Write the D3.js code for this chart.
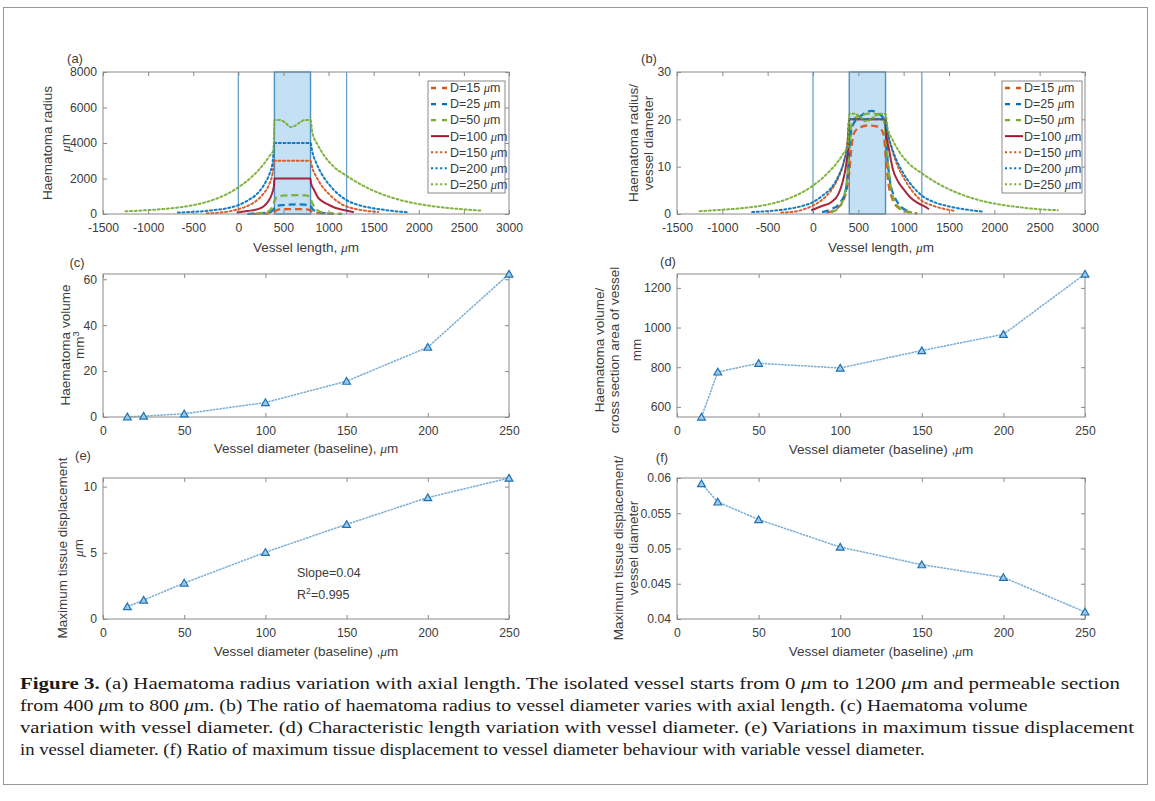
<!DOCTYPE html>
<html><head><meta charset="utf-8">
<script src="https://cdn.jsdelivr.net/npm/d3@7"></script>
<style>body{margin:0;background:#fff} svg{display:block}</style>
</head><body>
<svg id="fig" width="1155" height="801"></svg>
<script>
// ---------------- data ----------------
const diameters = [15, 25, 50, 100, 150, 200, 250];

// axial position (µm), haematoma radius (µm) and radius / vessel diameter
const lenD15   = [150, 250, 330, 380, 400, 420, 450, 500, 600, 700, 750, 780, 800, 830, 880, 950, 1050, 1150];
const radD15   = [5, 15, 40, 90, 130, 200, 255, 272, 280, 278, 268, 250, 190, 100, 45, 18, 6, 2];
const ratioD15 = [0.3, 1.0, 2.7, 6.0, 8.7, 13.3, 17.0, 18.1, 18.7, 18.5, 17.9, 16.7, 12.7, 6.7, 3.0, 1.2, 0.4, 0.1];

const lenD25   = [100, 200, 300, 360, 390, 410, 440, 500, 560, 650, 720, 780, 800, 820, 850, 900, 950, 1050];
const radD25   = [10, 25, 60, 120, 260, 400, 470, 505, 530, 545, 530, 505, 460, 300, 170, 90, 50, 15];
const ratioD25 = [0.4, 1.0, 2.4, 4.8, 10.4, 16.0, 18.8, 20.2, 21.2, 21.8, 21.2, 20.2, 18.4, 12.0, 6.8, 3.6, 2.0, 0.6];

const lenD50   = [200, 280, 340, 380, 400, 420, 460, 550, 650, 750, 790, 810, 840, 880, 950, 1050, 1150];
const radD50   = [20, 60, 180, 420, 720, 920, 1010, 1050, 1060, 1045, 960, 720, 420, 190, 70, 25, 10];
const ratioD50 = [0.4, 1.2, 3.6, 8.4, 14.4, 18.4, 20.2, 21.0, 21.2, 20.9, 19.2, 14.4, 8.4, 3.8, 1.4, 0.5, 0.2];

const lenD100   = [-20, 100, 200, 280, 330, 370, 395, 400, 800, 805, 840, 880, 940, 1000, 1080, 1150, 1220, 1280];
const radD100   = [80, 170, 250, 420, 700, 1100, 1600, 2000, 2000, 1750, 1350, 950, 680, 520, 340, 240, 170, 100];
const ratioD100 = [0.8, 1.7, 2.5, 4.2, 7.0, 11.0, 16.0, 20.0, 20.0, 17.5, 13.5, 9.5, 6.8, 5.2, 3.4, 2.4, 1.7, 1.0];

const lenD150   = [-350, -200, -100, 0, 100, 200, 280, 340, 380, 400, 800, 820, 870, 930, 1000, 1100, 1200, 1300, 1400, 1550];
const radD150   = [40, 80, 150, 270, 450, 750, 1150, 1650, 2300, 3000, 3000, 2600, 2050, 1550, 1150, 700, 420, 280, 190, 110];
const ratioD150 = [0.3, 0.5, 1.0, 1.8, 3.0, 5.0, 7.7, 11.0, 15.3, 20.0, 20.0, 17.3, 13.7, 10.3, 7.7, 4.7, 2.8, 1.9, 1.3, 0.7];

const lenD200   = [-670, -500, -300, -100, 0, 100, 200, 280, 340, 380, 400, 800, 820, 870, 930, 1000, 1100, 1200, 1350, 1500, 1700, 1870];
const radD200   = [80, 120, 200, 350, 500, 750, 1100, 1600, 2200, 2900, 4000, 4000, 3500, 2800, 2200, 1700, 1150, 780, 480, 320, 180, 100];
const ratioD200 = [0.4, 0.6, 1.0, 1.8, 2.5, 3.8, 5.5, 8.0, 11.0, 14.5, 20.0, 20.0, 17.5, 14.0, 11.0, 8.5, 5.8, 3.9, 2.4, 1.6, 0.9, 0.5];

const lenD250   = [-1250, -1000, -750, -500, -250, 0, 150, 280, 350, 390, 400, 450, 520, 580, 620, 680, 740, 800, 820, 880, 950, 1050, 1200, 1400, 1600, 1800, 2000, 2250, 2500, 2700];
const radD250   = [150, 220, 320, 500, 850, 1500, 2100, 2800, 3300, 3600, 5300, 5300, 5150, 4900, 4950, 5150, 5300, 5300, 4600, 3900, 3300, 2700, 2150, 1550, 1100, 780, 560, 380, 260, 190];
const ratioD250 = [0.6, 0.9, 1.3, 2.0, 3.4, 6.0, 8.4, 11.2, 13.2, 14.4, 21.2, 21.2, 20.6, 19.6, 19.8, 20.6, 21.2, 21.2, 18.4, 15.6, 13.2, 10.8, 8.6, 6.2, 4.4, 3.1, 2.2, 1.5, 1.0, 0.8];

// summary quantities against baseline vessel diameter (µm)
const baseDiam    = [15, 25, 50, 100, 150, 200, 250];
const volume      = [0.1, 0.4, 1.4, 6.3, 15.6, 30.4, 62.3];          // mm^3
const volumeRatio = [549, 776, 820, 796, 884, 966, 1270];             // mm
const maxDisp     = [0.93, 1.43, 2.72, 5.04, 7.15, 9.17, 10.65];      // µm
const dispRatio   = [0.0592, 0.0566, 0.0541, 0.0502, 0.0477, 0.0459, 0.0410];

// vessel extent and permeable section (µm)
const vesselEnds = [0, 1200];
const permeable  = [400, 800];

// tick labels
const lengthTicks      = [-1500, -1000, -500, 0, 500, 1000, 1500, 2000, 2500, 3000];
const radiusTicks      = [0, 2000, 4000, 6000, 8000];
const ratioTicks       = [0, 10, 20, 30];
const diamTicks        = [0, 50, 100, 150, 200, 250];
const volumeTicks      = [0, 20, 40, 60];
const volumeRatioTicks = [600, 800, 1000, 1200];
const dispTicks        = [0, 5, 10];
const dispRatioTicks   = [0.04, 0.045, 0.05, 0.055, 0.06];

// ---------------- styles ----------------
const SANS = "'Liberation Sans', Arial, Helvetica, sans-serif";
const SERIF = "'Liberation Serif', 'Times New Roman', serif";
const AXIS_COL = "#8a8a8a";
const TEXT_COL = "#3c3c3c";
const lineStyles = {
  15:  {color: "#d95319", dash: "7,4",  width: 2.3},
  25:  {color: "#0072bd", dash: "7,4",  width: 2.3},
  50:  {color: "#77ac30", dash: "7,4",  width: 2.3},
  100: {color: "#a2142f", dash: null,   width: 2.0},
  150: {color: "#d95319", dash: "2,2.6", width: 2.0},
  200: {color: "#0072bd", dash: "2,2.6", width: 2.0},
  250: {color: "#77ac30", dash: "2,2.6", width: 2.0}
};

const svg = d3.select("#fig");

// outer figure frame
svg.append("rect").attr("x", 3.5).attr("y", 7.5).attr("width", 1144).attr("height", 777)
  .attr("fill", "none").attr("stroke", "#9a9a9a").attr("stroke-width", 1);

function makePanel(box, xDom, yDom) {
  const g = svg.append("g");
  const x = d3.scaleLinear().domain(xDom).range([box.x0, box.x1]);
  const y = d3.scaleLinear().domain(yDom).range([box.y1, box.y0]);
  return {g, x, y, box};
}

function drawAxes(p, xt, yt) {
  const {g, x, y, box} = p;
  const fmt = d => String(d);
  const ax = g.append("g").attr("class", "axes");
  ax.append("g").attr("transform", `translate(0,${box.y1})`)
    .call(d3.axisBottom(x).tickValues(xt).tickSizeInner(-4).tickSizeOuter(0).tickPadding(9).tickFormat(fmt));
  ax.append("g").attr("transform", `translate(0,${box.y0})`)
    .call(d3.axisTop(x).tickValues(xt).tickSizeInner(-4).tickSizeOuter(0).tickFormat(() => ""));
  ax.append("g").attr("transform", `translate(${box.x0},0)`)
    .call(d3.axisLeft(y).tickValues(yt).tickSizeInner(-4).tickSizeOuter(0).tickPadding(6).tickFormat(fmt));
  ax.append("g").attr("transform", `translate(${box.x1},0)`)
    .call(d3.axisRight(y).tickValues(yt).tickSizeInner(-4).tickSizeOuter(0).tickFormat(() => ""));
  ax.selectAll(".domain").remove();
  ax.selectAll(".tick line").attr("stroke", AXIS_COL).attr("stroke-width", 1);
  ax.selectAll(".tick text").attr("fill", TEXT_COL).style("font-family", SANS).style("font-size", "12.2px");
  g.append("rect").attr("x", box.x0).attr("y", box.y0)
    .attr("width", box.x1 - box.x0).attr("height", box.y1 - box.y0)
    .attr("fill", "none").attr("stroke", AXIS_COL).attr("stroke-width", 1);
}

// text helper: parts = [[string, {italic, sup}], ...]
function richText(parent, x, y, parts, opts = {}) {
  const t = parent.append("text").attr("x", x).attr("y", y)
    .attr("fill", opts.fill || TEXT_COL)
    .style("font-family", opts.family || SANS)
    .style("font-size", (opts.size || 13) + "px")
    .attr("text-anchor", opts.anchor || "middle")
    .attr("dy", opts.dy || "0.35em");
  if (opts.rotate) t.attr("transform", `rotate(-90,${x},${y})`);
  parts.forEach(pt => {
    const s = typeof pt === "string" ? pt : pt[0];
    const o = typeof pt === "string" ? {} : pt[1];
    const ts = t.append("tspan").text(s);
    if (o.italic) ts.style("font-style", "italic").style("font-family", SERIF);
    if (o.bold) ts.style("font-weight", "bold");
    if (o.sup) ts.attr("baseline-shift", "super").style("font-size", "70%");
  });
  return t;
}
const MU = ["\u03bc", {italic: true}];

// ---------- panels (a) and (b): profiles along the vessel ----------
const seriesLen = {15: lenD15, 25: lenD25, 50: lenD50, 100: lenD100, 150: lenD150, 200: lenD200, 250: lenD250};
const seriesRad = {15: radD15, 25: radD25, 50: radD50, 100: radD100, 150: radD150, 200: radD200, 250: radD250};
const seriesRatio = {15: ratioD15, 25: ratioD25, 50: ratioD50, 100: ratioD100, 150: ratioD150, 200: ratioD200, 250: ratioD250};

function profilePanel(box, yDom, yt, valueSet, legendBox) {
  const p = makePanel(box, [-1500, 3000], yDom);
  const {g, x, y} = p;
  // permeable section
  g.append("rect").attr("x", x(permeable[0])).attr("y", box.y0)
    .attr("width", x(permeable[1]) - x(permeable[0])).attr("height", box.y1 - box.y0)
    .attr("fill", "#c4e0f4").attr("stroke", "#4d90c4").attr("stroke-width", 1.4);
  // vessel ends
  g.selectAll("line.vessel").data(vesselEnds).join("line").attr("class", "vessel")
    .attr("x1", d => x(d)).attr("x2", d => x(d)).attr("y1", box.y0).attr("y2", box.y1)
    .attr("stroke", "#66a3d0").attr("stroke-width", 1.3);
  const line = d3.line().x(d => x(d[0])).y(d => y(d[1])).curve(d3.curveMonotoneX);
  diameters.forEach(D => {
    const st = lineStyles[D];
    const pts = seriesLen[D].map((v, i) => [v, valueSet[D][i]]);
    g.append("path").datum(pts).attr("d", line).attr("fill", "none")
      .attr("stroke", st.color).attr("stroke-width", st.width)
      .attr("stroke-dasharray", st.dash).attr("stroke-linecap", st.dash && st.dash.startsWith("2") ? "round" : "butt")
      .attr("opacity", 0.92);
  });
  drawAxes(p, lengthTicks, yt);
  // legend
  const lg = g.append("g");
  lg.append("rect").attr("x", legendBox.x).attr("y", legendBox.y)
    .attr("width", legendBox.w).attr("height", legendBox.h)
    .attr("fill", "#fff").attr("stroke", AXIS_COL).attr("stroke-width", 1);
  diameters.forEach((D, i) => {
    const st = lineStyles[D];
    const cy = legendBox.y + 7 + i * 16.05;
    lg.append("line").attr("x1", legendBox.x + 3).attr("x2", legendBox.x + 21)
      .attr("y1", cy).attr("y2", cy).attr("stroke", st.color).attr("stroke-width", st.width)
      .attr("stroke-dasharray", st.dash === "7,4" ? "5,6" : st.dash);
    richText(lg, legendBox.x + 22, cy, [`D=${D} `, MU, "m"], {size: 12.5, anchor: "start"});
  });
  return p;
}

const pA = profilePanel({x0: 103, x1: 509, y0: 72, y1: 214}, [0, 8000], radiusTicks, seriesRad,
  {x: 428, y: 81, w: 77, h: 112});
richText(svg, 47, 143, ["Haematoma radius"], {rotate: true, size: 13.5});
richText(svg, 65, 143, [MU, "m"], {rotate: true, size: 13.5});
richText(svg, 306, 247, ["Vessel length, ", MU, "m"], {size: 13.5});
richText(svg, 75, 58, ["(a)"], {size: 13});

const pB = profilePanel({x0: 677, x1: 1085, y0: 72, y1: 214}, [0, 30], ratioTicks, seriesRatio,
  {x: 1002, y: 81, w: 80, h: 112});
richText(svg, 633, 143, ["Haematoma radius/"], {rotate: true, size: 13.5});
richText(svg, 648, 143, ["vessel diameter"], {rotate: true, size: 13.5});
richText(svg, 881, 247, ["Vessel length, ", MU, "m"], {size: 13.5});
richText(svg, 649, 58, ["(b)"], {size: 13});

// ---------- panels (c)–(f): against baseline diameter ----------
function diamPanel(box, yDom, yt, values) {
  const p = makePanel(box, [0, 250], yDom);
  const {g, x, y} = p;
  const pts = baseDiam.map((d, i) => [d, values[i]]);
  g.append("path").datum(pts)
    .attr("d", d3.line().x(d => x(d[0])).y(d => y(d[1])))
    .attr("fill", "none").attr("stroke", "#7aaed6").attr("stroke-width", 1.5)
    .attr("stroke-dasharray", "2.5,0.8");
  drawAxes(p, diamTicks, yt);
  g.selectAll("path.mk").data(pts).join("path").attr("class", "mk")
    .attr("transform", d => `translate(${x(d[0])},${y(d[1]) + 0.8})`)
    .attr("d", d3.symbol(d3.symbolTriangle, 26))
    .attr("fill", "#9ccbea").attr("stroke", "#1f73b5").attr("stroke-width", 1.2);
  return p;
}

diamPanel({x0: 103, x1: 509, y0: 274, y1: 417}, [0, 62.3], volumeTicks, volume);
richText(svg, 65, 345, ["Haematoma volume"], {rotate: true, size: 13.5});
richText(svg, 79, 345, ["mm", ["3", {sup: true}]], {rotate: true, size: 13.5});
richText(svg, 306, 448, ["Vessel diameter (baseline), ", MU, "m"], {size: 13.5});
richText(svg, 77, 262, ["(c)"], {size: 13});

diamPanel({x0: 677, x1: 1085, y0: 274, y1: 417}, [549, 1270], volumeRatioTicks, volumeRatio);
richText(svg, 599, 350, ["Haematoma volume/"], {rotate: true, size: 13.5});
richText(svg, 614, 350, ["cross section area of vessel"], {rotate: true, size: 13.5});
richText(svg, 636, 350, ["mm"], {rotate: true, size: 13.5});
richText(svg, 881, 449, ["Vessel diameter (baseline) ,", MU, "m"], {size: 13.5});
richText(svg, 668, 261, ["(d)"], {size: 13});

const pE = diamPanel({x0: 103, x1: 509, y0: 478, y1: 619}, [0, 10.65], dispTicks, maxDisp);
richText(svg, 62, 548, ["Maximum tissue displacement"], {rotate: true, size: 13.5});
richText(svg, 78, 548, [MU, "m"], {rotate: true, size: 13.5});
richText(svg, 306, 651, ["Vessel diameter (baseline) ,", MU, "m"], {size: 13.5});
richText(svg, 83, 455, ["(e)"], {size: 13});
richText(svg, 297, 573, ["Slope=0.04"], {size: 12.5, anchor: "start"});
richText(svg, 297, 595, ["R", ["2", {sup: true}], "=0.995"], {size: 12.5, anchor: "start"});

diamPanel({x0: 677, x1: 1085, y0: 478, y1: 619}, [0.04, 0.06], dispRatioTicks, dispRatio);
richText(svg, 618, 548, ["Maximum tissue displacement/"], {rotate: true, size: 13.5});
richText(svg, 633, 548, ["vessel diameter"], {rotate: true, size: 13.5});
richText(svg, 881, 651, ["Vessel diameter (baseline) ,", MU, "m"], {size: 13.5});
richText(svg, 662, 457, ["(f)"], {size: 13});

// ---------- caption ----------
const captionLines = [
  [[["Figure 3.", {bold: true}], " (a) Haematoma radius variation with axial length. The isolated vessel starts from 0 ", MU, "m to 1200 ", MU, "m and permeable section"], 1121],
  [["from 400 ", MU, "m to 800 ", MU, "m. (b) The ratio of haematoma radius to vessel diameter varies with axial length. (c) Haematoma volume"], 1028],
  [["variation with vessel diameter. (d) Characteristic length variation with vessel diameter. (e) Variations in maximum tissue displacement"], 1135],
  [["in vessel diameter. (f) Ratio of maximum tissue displacement to vessel diameter behaviour with variable vessel diameter."], 925]
];
captionLines.forEach(([parts, right], i) => {
  const y = 689 + i * 22;
  const t = richText(svg, 20, y, parts, {size: 17.5, anchor: "start", family: SERIF, fill: "#1a1a1a", dy: "0"});
  const w = t.node().getBBox().width;
  const s = (right - 20) / w;
  t.attr("transform", `translate(20,0) scale(${s},1) translate(-20,0)`);
});
</script>
</body></html>
